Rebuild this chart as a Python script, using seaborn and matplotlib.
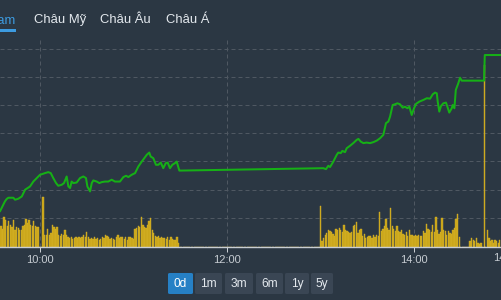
import matplotlib
matplotlib.use("Agg")
import matplotlib.pyplot as plt
import seaborn as sns
from matplotlib import transforms
from matplotlib.patches import FancyBboxPatch, Rectangle

# ---------------- data ----------------
# price line: minutes after 09:00, index value
price_time = [34.3, 37.5, 38.6, 39.7, 42.9, 44.0, 46.1, 48.3, 50.4, 53.6, 55.7, 57.9, 60.0, 63.2, 65.3,
              66.9, 68.5, 70.3, 71.7, 73.9, 75.4, 77.1, 78.2, 79.3, 80.3, 81.4, 83.5, 85.7, 87.8, 89.5,
              90.4, 92.1, 93.2, 94.2, 96.4, 98.1, 99.6, 101.7, 103.8, 106.0, 108.1, 111.3, 113.5, 115.2,
              116.7, 118.8, 121.0, 123.1, 125.3, 128.5, 130.1, 131.0, 132.7, 134.4, 135.9, 137.5, 139.1,
              140.7, 141.9, 143.4, 144.9, 146.6, 147.7, 149.4, 150.0,
              240.0, 241.8, 243.5, 245.0, 246.1, 248.2, 250.4, 251.4, 253.0, 254.0, 255.7, 256.8, 258.9,
              261.0, 263.2, 264.3, 265.8, 267.5, 269.6, 271.8, 273.9, 276.1, 278.2, 280.3, 282.0, 283.5,
              284.6, 286.3, 287.8, 289.3, 291.0, 292.7, 294.2, 295.7, 297.0, 298.5, 300.0, 301.3, 303.4,
              306.0, 308.2, 310.3, 312.0, 313.5, 314.6, 315.2, 316.2, 317.3, 318.8, 320.5, 321.4, 322.6,
              324.2, 324.8, 325.9, 326.8, 328.4, 329.5, 330.6, 333.8, 344.9, 345.4, 360.0]
price = [1170.45, 1171.16, 1171.33, 1171.42, 1171.42, 1171.28, 1171.35, 1171.51, 1171.99, 1172.22,
         1172.57, 1172.82, 1173.05, 1173.17, 1173.24, 1173.17, 1172.82, 1172.46, 1172.27, 1172.34,
         1172.46, 1172.93, 1172.22, 1172.11, 1172.57, 1172.46, 1172.50, 1172.82, 1172.93, 1172.82,
         1172.22, 1171.87, 1172.46, 1172.65, 1172.57, 1172.46, 1172.53, 1172.57, 1172.57, 1172.70,
         1172.57, 1172.57, 1172.89, 1172.98, 1172.89, 1173.05, 1173.17, 1173.64, 1173.99, 1174.47,
         1174.63, 1174.35, 1174.23, 1173.76, 1173.76, 1173.92, 1173.52, 1173.88, 1173.92, 1173.52,
         1173.76, 1173.88, 1173.99, 1173.35, 1173.35,
         1173.51, 1173.52, 1173.45, 1173.69, 1173.60, 1173.99, 1174.47, 1174.63, 1174.59, 1174.75,
         1174.66, 1174.94, 1175.11, 1175.30, 1175.53, 1175.60, 1175.41, 1175.30, 1175.34, 1175.30,
         1175.37, 1175.48, 1175.65, 1175.89, 1176.72, 1176.83, 1177.18, 1178.01, 1178.06, 1178.13,
         1178.06, 1177.82, 1177.89, 1177.78, 1177.89, 1177.30, 1177.78, 1178.09, 1178.25, 1178.37,
         1178.49, 1178.46, 1178.77, 1178.89, 1178.84, 1178.25, 1177.54, 1177.94, 1178.13, 1178.18,
         1177.89, 1177.47, 1177.78, 1178.01, 1177.78, 1179.08, 1179.55, 1179.95, 1179.74, 1179.74,
         1179.74, 1181.56, 1181.56]

# volume per minute (morning 09:35-11:29, afternoon 13:00-14:29, ATC and after)
vol_am = [210, 180, 300, 270, 210, 260, 220, 200, 270, 170, 200, 190, 170, 170, 210, 220, 280, 240,
          270, 220, 210, 260, 210, 200, 200, 0, 0, 500,
          120, 120, 180, 120, 140, 220, 200, 180, 200, 120,
          110, 130, 120, 170, 120, 100, 90, 100, 80, 90,
          100, 90, 100, 90, 100, 120, 100, 150, 100, 80,
          90, 80, 100, 80, 90, 70, 80, 100, 90, 120,
          110, 100, 80, 90, 80, 70, 100, 120, 90, 100,
          100, 80, 100, 70, 100, 100, 90, 80, 180, 190,
          210, 200, 300, 220, 200, 190, 220, 260, 290, 170,
          140, 110, 100, 110, 90, 100, 90, 90, 80, 100,
          70, 100, 80, 70, 70, 100, 40]
vol_pm = [406, 56, 90, 123, 140, 167, 156, 146, 133, 113,
          180, 167, 190, 173, 146, 223, 167, 156, 146, 140,
          150, 213, 223, 246, 140, 173, 180, 113, 133, 90,
          100, 106, 113, 90, 123, 100, 123, 113, 350, 156,
          180, 206, 279, 190, 170, 390, 206, 180, 156, 206,
          156, 146, 173, 133, 123, 146, 113, 173, 123, 123,
          113, 120, 113, 123, 113, 113, 156, 140, 233, 180,
          173, 146, 223, 146, 300, 173, 133, 146, 290, 173,
          156, 123, 156, 140, 133, 173, 190, 279, 333, 100]
vol_atc_time = [336, 337, 338, 339, 340, 341, 342, 343, 345, 347, 348, 349, 350, 351, 352, 353, 354, 355]
vol_atc = [56, 90, 73, 56, 90, 40, 33, 40, 1820, 167, 90, 56, 73, 40, 66, 56, 40, 66]

vol_time = list(range(35, 35 + len(vol_am))) + list(range(240, 240 + len(vol_pm))) + vol_atc_time
vol_value = vol_am + vol_pm + vol_atc

tick_pos = [60, 180, 300]
tick_labels = ["10:00", "12:00", "14:00"]
grid_levels = [1170, 1172, 1174, 1176, 1178, 1180, 1182]
tabs = ["Việt Nam", "Châu Mỹ", "Châu Âu", "Châu Á"]
ranges = ["0d", "1m", "3m", "6m", "1y", "5y"]

# ---------------- style ----------------
BG = "#2b3743"
GRID = "#4f5862"
GREEN = "#16b016"
GOLD = "#c9a417"
GOLD_EDGE = "#d6b42c"
BLUE = "#3d9be0"
TXT = "#e4e9ee"
AX_TXT = "#c6ccd2"

sns.set_theme(style="dark", rc={"axes.facecolor": BG, "figure.facecolor": BG})
plt.rcParams["font.family"] = ["Liberation Sans", "DejaVu Sans"]

W, H = 501, 300
fig = plt.figure(figsize=(W / 100, H / 100), dpi=100, facecolor=BG)
ax = fig.add_axes([0, 53 / H, 1, 209 / H])
ax.set_facecolor(BG)
ax2 = ax.twinx()

# volume bars
sns.histplot(x=vol_time, weights=vol_value, discrete=True, shrink=0.85, color=GOLD,
             edgecolor=GOLD_EDGE, linewidth=0.3, alpha=1.0, ax=ax, zorder=2)
ax.set_ylim(0, 2090)
ax.set_xlim(34.33, 355.8)

# price line
sns.lineplot(x=price_time, y=price, ax=ax2, color=GREEN, linewidth=1.45)
ax2.set_ylim(1167.92, 1182.77)
ax2.set_xlim(34.33, 355.8)

# grid lines (behind bars)
blend = transforms.blended_transform_factory(ax.transAxes, ax2.transData)
for lvl in grid_levels:
    ax.plot([0, 1], [lvl, lvl], transform=blend, color=GRID, lw=0.72, dashes=(4, 3), zorder=0)
for t in tick_pos:
    ax.axvline(t, color=GRID, lw=0.72, dashes=(4, 3), zorder=0)

for a in (ax, ax2):
    for s in a.spines.values():
        s.set_visible(False)
    a.set_ylabel("")
    a.set_xlabel("")
    a.set_yticks([])
ax.spines["bottom"].set_visible(True)
ax.spines["bottom"].set_color("#c9ced3")
ax.spines["bottom"].set_linewidth(1.0)
ax.set_xticks(tick_pos)
ax.set_xticklabels(tick_labels)
ax.tick_params(axis="x", bottom=True, length=3.6, width=0.72, color="#c9ced3",
               labelcolor=AX_TXT, labelsize=8, pad=2)
ax2.tick_params(axis="x", bottom=False, labelbottom=False)
ax.set_zorder(1)
ax2.set_zorder(2)
ax2.patch.set_visible(False)

# partially visible last time label
fig.text(493 / W, 1 - 258 / H, "14:45", ha="left", va="center", color=AX_TXT, fontsize=8)

# tabs
fig.text(15.5 / W, 1 - 23 / H, tabs[0], ha="right", va="baseline", color=BLUE, fontsize=9.4)
fig.add_artist(Rectangle((0, 1 - 31.5 / H), 16 / W, 2 / H, transform=fig.transFigure,
                         color=BLUE, lw=0))
for label, x0 in zip(tabs[1:], [34, 100, 166]):
    fig.text(x0 / W, 1 - 23 / H, label, ha="left", va="baseline", color=TXT, fontsize=9.4)

# range buttons
btn_x = [(168, 193), (195, 222), (225, 253), (256, 283), (285, 309), (311, 333)]
for i, (label, (x0, x1)) in enumerate(zip(ranges, btn_x)):
    fc = "#2680c5" if i == 0 else "#3a4654"
    fig.add_artist(FancyBboxPatch((x0 / W, 1 - 294 / H), (x1 - x0) / W, 21 / H,
                                  boxstyle="round,pad=0,rounding_size=0.004",
                                  transform=fig.transFigure, fc=fc, ec="none"))
    fig.text((x0 + x1) / 2 / W, 1 - 284 / H, label, ha="center", va="center",
             color="#ffffff" if i == 0 else TXT, fontsize=8.6)

fig.savefig("out.png", dpi=100, facecolor=BG)
